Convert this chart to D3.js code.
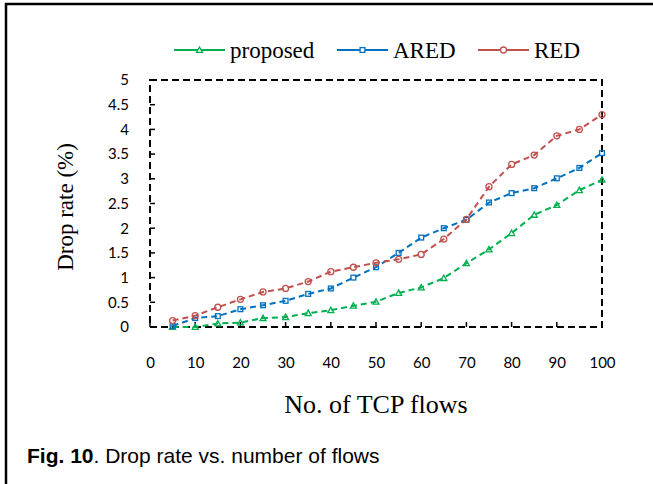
<!DOCTYPE html>
<html><head><meta charset="utf-8">
<script src="https://cdn.jsdelivr.net/npm/d3@7"></script>
<style>body{margin:0;background:#fff}</style>
</head><body>
<svg id="chart" width="653" height="484"></svg>
<script>
const flows = [5,10,15,20,25,30,35,40,45,50,55,60,65,70,75,80,85,90,95,100];
const proposed = [0,0,0.07,0.09,0.18,0.2,0.28,0.34,0.43,0.51,0.69,0.8,0.99,1.29,1.57,1.9,2.27,2.47,2.77,2.98];
const ared = [0.02,0.18,0.22,0.36,0.44,0.53,0.67,0.78,1.0,1.21,1.5,1.81,2.0,2.17,2.52,2.71,2.81,3.01,3.22,3.52];
const red = [0.13,0.23,0.4,0.56,0.71,0.78,0.92,1.12,1.21,1.3,1.37,1.47,1.78,2.18,2.84,3.29,3.48,3.87,4.0,4.3];
const xTicks = [0,10,20,30,40,50,60,70,80,90,100];
const yTicks = [0,0.5,1,1.5,2,2.5,3,3.5,4,4.5,5];
const seriesNames = ["proposed","ARED","RED"];
const colors = ["#00B050","#0070C0","#C0504D"];
const markers = ["triangle","square","circle"];

const svg = d3.select("#chart");
const x = d3.scaleLinear().domain([0,100]).range([150,602]);
const y = d3.scaleLinear().domain([0,5]).range([327,80]);

// frame (left and top)
svg.append("path").attr("d","M6,484 V4 H653").attr("fill","none").attr("stroke","#000").attr("stroke-width",2.5);

// y tick labels
const yAxis = d3.axisLeft(y).tickValues(yTicks).tickSize(0).tickPadding(0).tickFormat(d3.format("~g"));
const gy = svg.append("g").attr("transform","translate(129,0)").call(yAxis);
gy.select(".domain").remove();
gy.selectAll("text").attr("font-family","Lato, 'Open Sans', sans-serif").attr("font-size",15).attr("fill","#000");

// x tick labels
const xAxis = d3.axisBottom(x).tickValues(xTicks).tickSize(0).tickPadding(0);
const gx = svg.append("g").attr("transform","translate(0,357)").call(xAxis);
gx.select(".domain").remove();
gx.selectAll("text").attr("font-family","Lato, 'Open Sans', sans-serif").attr("font-size",15).attr("fill","#000");

// inner ticks
svg.append("g").selectAll("line").data(yTicks).join("line")
  .attr("x1",x(0)).attr("x2",x(0)+5).attr("y1",d=>y(d)).attr("y2",d=>y(d))
  .attr("stroke","#000").attr("stroke-width",1.5);
svg.append("g").selectAll("line").data(xTicks).join("line")
  .attr("x1",d=>x(d)).attr("x2",d=>x(d)).attr("y1",y(0)).attr("y2",y(0)-5)
  .attr("stroke","#000").attr("stroke-width",1.5);

// dashed frame
svg.append("rect").attr("x",x(0)).attr("y",y(5)).attr("width",x(100)-x(0)).attr("height",y(0)-y(5))
  .attr("fill","none").attr("stroke","#000").attr("stroke-width",2).attr("stroke-dasharray","7,4");

// series
const data = [proposed, ared, red];
const line = d3.line().x((d,i)=>x(flows[i])).y(d=>y(d));
function drawMarker(g, type, cx, cy, s){
  if(type==="triangle"){
    g.append("path").attr("d",`M${cx},${cy-s} L${cx+s},${cy+s*0.8} L${cx-s},${cy+s*0.8} Z`);
  } else if(type==="square"){
    g.append("rect").attr("x",cx-s*0.8).attr("y",cy-s*0.8).attr("width",s*1.6).attr("height",s*1.6);
  } else {
    g.append("circle").attr("cx",cx).attr("cy",cy).attr("r",s);
  }
}
data.forEach((vals,k)=>{
  svg.append("path").datum(vals).attr("d",line).attr("fill","none")
    .attr("stroke",colors[k]).attr("stroke-width",2).attr("stroke-dasharray","6,4");
  const mg = svg.append("g").attr("fill","none").attr("stroke",colors[k]).attr("stroke-width",1.3);
  vals.forEach((v,i)=>drawMarker(mg, markers[k], x(flows[i]), y(v), 3));
});

// legend
const legX = [174,337,478];
seriesNames.forEach((n,k)=>{
  const g = svg.append("g");
  g.append("line").attr("x1",legX[k]).attr("x2",legX[k]+51).attr("y1",50).attr("y2",50)
    .attr("stroke",colors[k]).attr("stroke-width",2);
  const mg = g.append("g").attr("fill","#fff").attr("stroke",colors[k]).attr("stroke-width",1.3);
  drawMarker(mg, markers[k], legX[k]+25.5, 50, 3);
  g.append("text").attr("x",legX[k]+56).attr("y",58).text(n)
    .attr("font-family","'Liberation Serif', 'Times New Roman', serif").attr("font-size",23).attr("fill","#000");
});

// axis titles
svg.append("text").attr("transform","translate(73,207) rotate(-90)").attr("text-anchor","middle")
  .attr("font-family","'Liberation Serif', 'Times New Roman', serif").attr("font-size",23).text("Drop rate (%)");
svg.append("text").attr("x",376).attr("y",413).attr("text-anchor","middle")
  .attr("font-family","'Liberation Serif', 'Times New Roman', serif").attr("font-size",26).text("No. of TCP flows");

// caption
const cap = svg.append("text").attr("x",27).attr("y",463)
  .attr("font-family","'Liberation Sans', Arial, sans-serif").attr("font-size",21).attr("fill","#000");
cap.append("tspan").attr("font-weight","bold").text("Fig. 10");
cap.append("tspan").text(". Drop rate vs. number of flows");
</script>
</body></html>
